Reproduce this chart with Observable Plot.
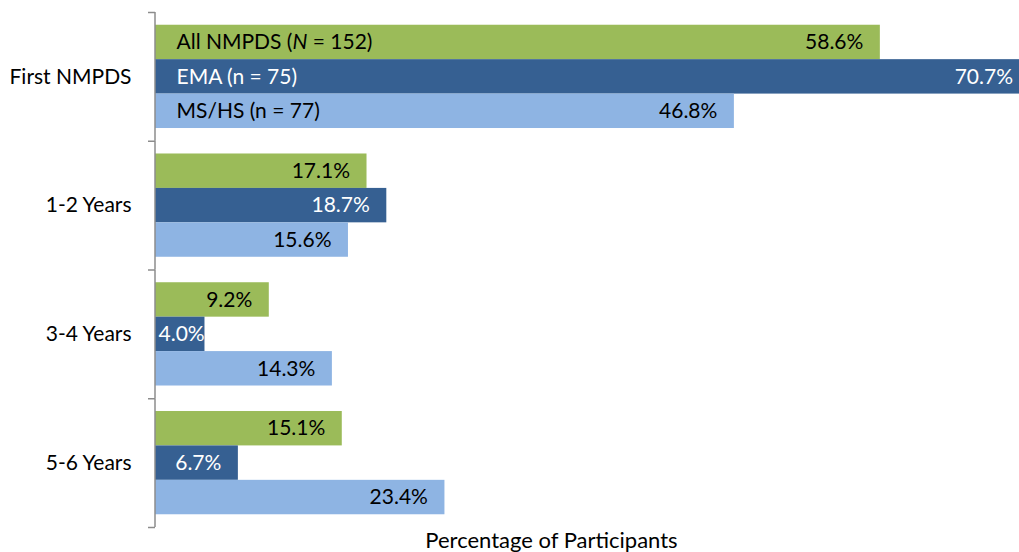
<!DOCTYPE html>
<html>
<head>
<meta charset="utf-8">
<script src="https://cdn.jsdelivr.net/npm/d3@7"></script>
<script src="https://cdn.jsdelivr.net/npm/@observablehq/plot@0.6"></script>
<style>
  html, body { margin: 0; padding: 0; background: #fff; }
</style>
</head>
<body>
<div id="chart"></div>
<script>
const categories = ["First NMPDS", "1-2 Years", "3-4 Years", "5-6 Years"];
const seriesNames = ["All NMPDS (N = 152)", "EMA (n = 75)", "MS/HS (n = 77)"];
const allValues = [58.6, 17.1, 9.2, 15.1];
const emaValues = [70.7, 18.7, 4.0, 6.7];
const mshsValues = [46.8, 15.6, 14.3, 23.4];
const axisTitle = "Percentage of Participants";

const colors = ["#9BBB59", "#366092", "#8EB4E3"];
const seriesValues = [allValues, emaValues, mshsValues];

const data = categories.flatMap((c, i) =>
  seriesNames.map((s, j) => ({category: c, series: s, value: seriesValues[j][i]}))
);

const W = 1019, H = 552, mTop = 12, mBottom = 25;
const fyBand = (H - mTop - mBottom) / categories.length;
const axisGray = "#8c8c8c";
const fmt = d => d.value.toFixed(1) + "%";
const isDark = d => d.series === seriesNames[1];

const chart = Plot.plot({
  width: W,
  height: H,
  marginLeft: 155,
  marginRight: 0,
  marginTop: mTop,
  marginBottom: mBottom,
  style: {fontFamily: "Lato, 'Open Sans', sans-serif", fontSize: "21px", color: "#000", background: "#fff"},
  x: {domain: [0, 69.85], axis: null},
  y: {domain: seriesNames, paddingInner: 0, paddingOuter: 0.37, round: false, axis: null},
  fy: {domain: categories, padding: 0, round: false, axis: null},
  color: {domain: seriesNames, range: colors},
  marks: [
    Plot.barX(data, {x: "value", y: "series", fy: "category", fill: "series", clip: true}),
    Plot.ruleX([0], {stroke: axisGray, strokeWidth: 1.5, dx: -0.5}),
    Plot.axisFy({anchor: "left", tickSize: 0, tickPadding: 24, label: null, fontSize: 21, fill: "#000"}),
    Plot.axisFy({anchor: "left", text: null, label: null, tickSize: 7, dy: -fyBand / 2, stroke: axisGray, strokeWidth: 1.5}),
    Plot.axisFy({anchor: "left", ticks: [categories[categories.length - 1]], text: null, label: null, tickSize: 7, dy: fyBand / 2, stroke: axisGray, strokeWidth: 1.5}),
    Plot.text(data.filter(d => d.value >= 5 && !isDark(d)), {x: "value", y: "series", fy: "category", text: fmt, textAnchor: "end", dx: -17, fill: "#000"}),
    Plot.text(data.filter(d => d.value >= 5 && isDark(d)), {x: "value", y: "series", fy: "category", text: fmt, textAnchor: "end", dx: -17, fill: "#fff"}),
    Plot.text(data.filter(d => d.value < 5), {x: 0, y: "series", fy: "category", text: fmt, textAnchor: "start", dx: 3, fill: "#fff"}),
    Plot.text(data.filter(d => d.category === categories[0] && !isDark(d)), {x: 0, y: "series", fy: "category", text: "series", textAnchor: "start", dx: 21, fill: "#000"}),
    Plot.text(data.filter(d => d.category === categories[0] && isDark(d)), {x: 0, y: "series", fy: "category", text: "series", textAnchor: "start", dx: 21, fill: "#fff"}),
    Plot.text([axisTitle], {frameAnchor: "bottom", facet: "super", lineAnchor: "middle", dx: -36, dy: 13, fontSize: 22, fill: "#000"})
  ]
});

// italic N in the first series name
chart.querySelectorAll("text").forEach(t => {
  if (t.textContent === seriesNames[0]) {
    const target = t.querySelector("tspan") || t;
    target.textContent = "";
    const parts = seriesNames[0].split("N = ");
    target.append(document.createTextNode(parts[0]));
    const ts = document.createElementNS("http://www.w3.org/2000/svg", "tspan");
    ts.setAttribute("font-style", "italic");
    ts.textContent = "N";
    target.append(ts);
    target.append(document.createTextNode(" = " + parts[1]));
  }
});

document.getElementById("chart").append(chart);
</script>
</body>
</html>
